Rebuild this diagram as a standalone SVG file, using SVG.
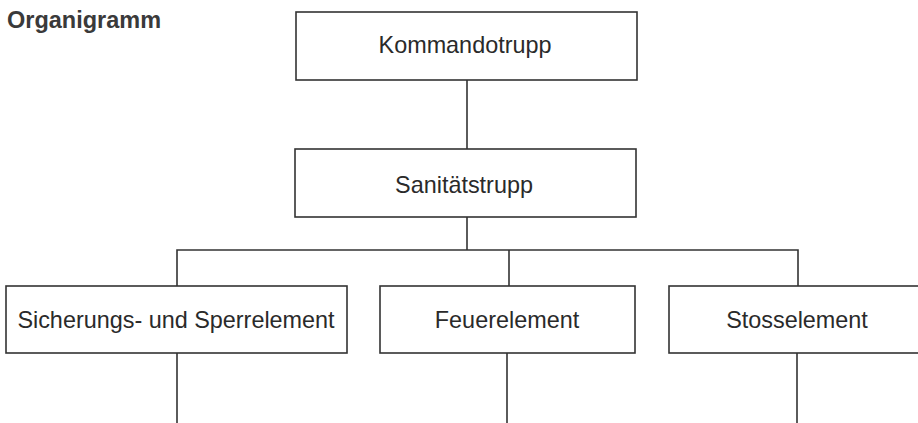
<svg xmlns="http://www.w3.org/2000/svg" width="918" height="423" viewBox="0 0 918 423">
<style>
.box{fill:#fff;stroke:#333;stroke-width:1.6}
.lbl{font-family:"Liberation Sans",Arial,sans-serif;font-size:23.4px;fill:#2a2a2a;text-anchor:middle}
.ttl{font-family:"Liberation Sans",Arial,sans-serif;font-size:23.5px;font-weight:bold;fill:#3a3a3a}
.con{fill:none;stroke:#333;stroke-width:1.6}
</style>
<rect width="918" height="423" fill="#fff"/>
<text class="ttl" x="7" y="28">Organigramm</text>
<g id="connectors">
<path class="con" d="M467 80V149"/>
<path class="con" d="M467 217V250"/>
<path class="con" d="M177 286V250H798V286"/>
<path class="con" d="M509 250V286"/>
<path class="con" d="M177 353V423"/>
<path class="con" d="M507 353V423"/>
<path class="con" d="M797 353V423"/>
</g>
<g id="kommandotrupp">
<rect class="box" x="296" y="12" width="341" height="68"/>
<text class="lbl" x="465" y="53">Kommandotrupp</text>
</g>
<g id="sanitaetstrupp">
<rect class="box" x="295" y="149" width="341" height="68"/>
<text class="lbl" x="464" y="193">Sanitätstrupp</text>
</g>
<g id="sicherung">
<rect class="box" x="6" y="286" width="341" height="67"/>
<text class="lbl" x="176" y="328">Sicherungs- und Sperrelement</text>
</g>
<g id="feuerelement">
<rect class="box" x="380" y="286" width="255" height="67"/>
<text class="lbl" x="507" y="328">Feuerelement</text>
</g>
<g id="stosselement">
<rect class="box" x="669" y="286" width="260" height="67"/>
<text class="lbl" x="797" y="328">Stosselement</text>
</g>
</svg>
